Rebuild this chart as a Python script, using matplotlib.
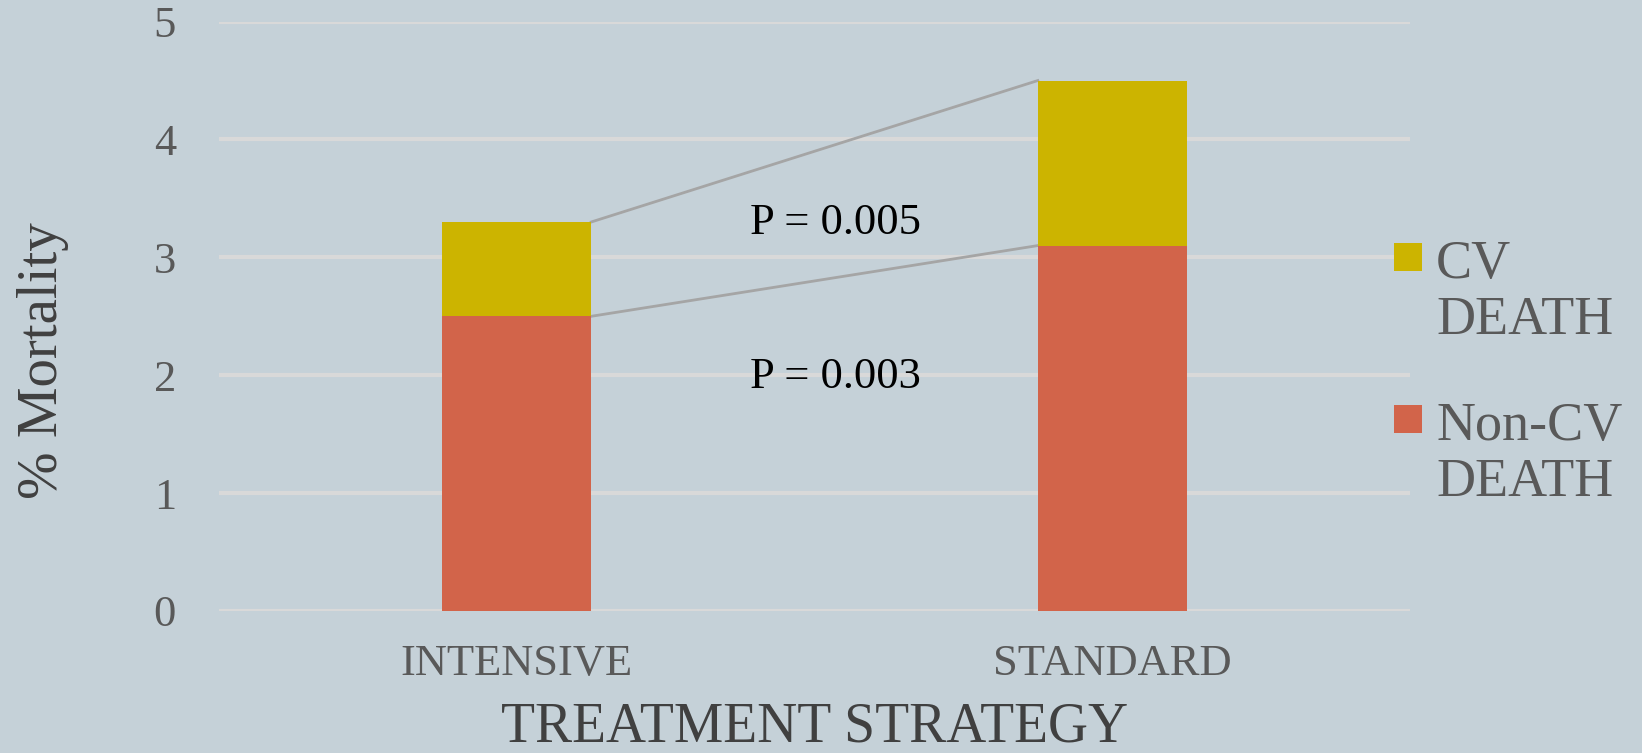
import numpy as np
import matplotlib.pyplot as plt
from matplotlib.patches import Rectangle

# mortality by treatment arm (%)
strategies = ["INTENSIVE", "STANDARD"]
non_cv_death = [2.5, 3.1]
cv_death = [0.8, 1.4]
p_values = ["P = 0.005", "P = 0.003"]
legend_labels = ["CV\nDEATH", "Non-CV\nDEATH"]

bg = "#C5D1D8"
cv_color = "#CCB400"
noncv_color = "#D2644A"
line_color = "#A5A5A5"

plt.rcParams['font.family'] = ['Liberation Serif', 'DejaVu Serif']

W, H = 1642, 753
fig = plt.figure(figsize=(W / 100, H / 100), dpi=100, facecolor=bg)
ax = fig.add_axes([0.1334, 0.1886, 0.7253, 0.7827])
ax.set_facecolor(bg)

x = np.arange(len(strategies))
width = 0.25
totals = np.array(non_cv_death) + np.array(cv_death)

ax.bar(x, non_cv_death, width, color=noncv_color, zorder=3)
ax.bar(x, cv_death, width, bottom=non_cv_death, color=cv_color, zorder=3)

# series lines joining the stacked segments
ax.plot([x[0] + width / 2, x[1] - width / 2], [totals[0], totals[1]],
        color=line_color, lw=2, zorder=2)
ax.plot([x[0] + width / 2, x[1] - width / 2], [non_cv_death[0], non_cv_death[1]],
        color=line_color, lw=2, zorder=2)

ax.text(0.535, 3.20, p_values[0], ha='center', va='baseline', fontsize=32, color='black', zorder=4)
ax.text(0.535, 1.89, p_values[1], ha='center', va='baseline', fontsize=32, color='black', zorder=4)

ax.set_xlim(-0.5, 1.5)
ax.set_ylim(0, 5)
ax.set_yticks(range(6))
ax.set_xticks(x)
ax.set_xticklabels(strategies)
ax.yaxis.grid(True, color="#D9D9D9", lw=3, zorder=0)
ax.set_axisbelow(True)
for s in ax.spines.values():
    s.set_visible(False)
ax.tick_params(axis='both', length=0, labelcolor="#595959", labelsize=32)
ax.tick_params(axis='y', pad=31)
ax.tick_params(axis='x', pad=24)

fig.text(0.496, 0.0, "TREATMENT STRATEGY", ha='center', va='bottom',
         fontsize=40, color="#404040")
fig.text(0.026, 0.5206, "% Mortality", ha='center', va='center', rotation=90,
         fontsize=41, color="#404040")

# legend: square beside the first line of each two-line label
for label, color, top in zip(legend_labels, [cv_color, noncv_color], [243, 405]):
    fig.patches.append(Rectangle((1394 / W, 1 - (top + 28) / H), 28 / W, 28 / H,
                                 transform=fig.transFigure, color=color, lw=0))
    # baseline of the second line
    fig.text(1436 / W, 1 - (top + 91) / H, label, ha='left', va='baseline',
             fontsize=39, color="#595959", linespacing=1.13)

fig.savefig("out.png", dpi=100, facecolor=bg)
